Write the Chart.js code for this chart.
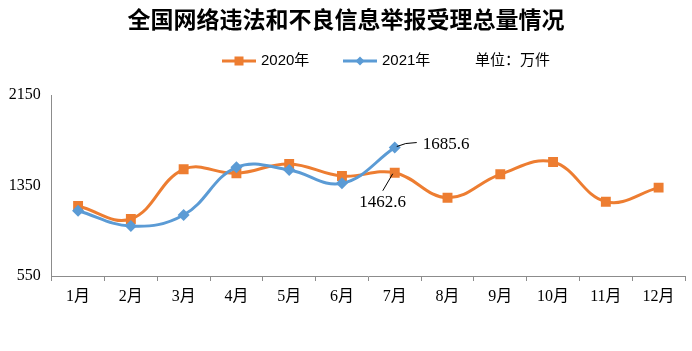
<!DOCTYPE html>
<html>
<head>
<meta charset="utf-8">
<script src="https://cdn.jsdelivr.net/npm/chart.js@4/dist/chart.umd.min.js"></script>
<style>
  html, body { margin: 0; padding: 0; background: #fff; }
  #wrap { width: 692px; height: 351px; }
</style>
</head>
<body>
<div id="wrap"><canvas id="reportChart" width="692" height="351"></canvas></div>
<script>
const months = ["1月", "2月", "3月", "4月", "5月", "6月", "7月", "8月", "9月", "10月", "11月", "12月"];
const values2020 = [1169, 1054, 1493, 1458, 1540, 1434, 1462.6, 1242, 1449, 1558, 1207, 1331];
const values2021 = [1127, 992, 1089, 1511, 1487, 1369, 1685.6];
const yTicks = [550, 1350, 2150];

const titleText = "全国网络违法和不良信息举报受理总量情况";
const unitText = "单位：万件";

const orange = "#ED7D31";
const blue = "#5B9BD5";
const axisGray = "#8c8c8c";
const serif = '"Liberation Serif", "Noto Sans CJK SC", serif';
const sans = '"Liberation Sans", "Noto Sans CJK SC", sans-serif';

// title, legend, unit and the two value labels
const decorPlugin = {
    id: "decor",
    afterDraw(chart) {
        const ctx = chart.ctx;
        ctx.save();

        ctx.fillStyle = "#000";
        ctx.textAlign = "center";
        ctx.textBaseline = "middle";
        ctx.font = 'bold 23px "Noto Sans CJK SC", sans-serif';
        ctx.fillText(titleText, 346, 19);

        // legend
        const items = [
            { x: 222, color: orange, style: "rect", text: "2020年" },
            { x: 343, color: blue, style: "diamond", text: "2021年" }
        ];
        ctx.font = "15px " + sans;
        ctx.textAlign = "left";
        items.forEach(it => {
            const y = 61;
            ctx.strokeStyle = it.color;
            ctx.lineWidth = 3;
            ctx.beginPath();
            ctx.moveTo(it.x, y);
            ctx.lineTo(it.x + 34, y);
            ctx.stroke();
            ctx.fillStyle = it.color;
            const cx = it.x + 17;
            if (it.style === "rect") {
                ctx.fillRect(cx - 4.5, y - 4.5, 9, 9);
            } else {
                ctx.beginPath();
                ctx.moveTo(cx, y - 4.5);
                ctx.lineTo(cx + 4.5, y);
                ctx.lineTo(cx, y + 4.5);
                ctx.lineTo(cx - 4.5, y);
                ctx.closePath();
                ctx.fill();
            }
            ctx.fillStyle = "#000";
            ctx.fillText(it.text, it.x + 39, y);
        });
        ctx.fillText(unitText, 475, 61);

        // value labels for July
        const p21 = chart.getDatasetMeta(1).data[6];
        const p20 = chart.getDatasetMeta(0).data[6];
        ctx.strokeStyle = "#000";
        ctx.lineWidth = 1;
        ctx.font = "17px " + serif;
        ctx.fillStyle = "#000";
        if (p21) {
            ctx.beginPath();
            ctx.moveTo(p21.x + 2, p21.y - 1);
            ctx.quadraticCurveTo(p21.x + 10, p21.y - 5, p21.x + 22, p21.y - 5);
            ctx.stroke();
            ctx.textAlign = "left";
            ctx.fillText(values2021[6].toFixed(1), p21.x + 28, p21.y - 3);
        }
        if (p20) {
            ctx.beginPath();
            ctx.moveTo(p20.x - 2, p20.y + 1);
            ctx.lineTo(p20.x - 12, p20.y + 18);
            ctx.stroke();
            ctx.textAlign = "center";
            ctx.fillText(values2020[6].toFixed(1), p20.x - 12, p20.y + 30);
        }
        ctx.restore();
    }
};

new Chart(document.getElementById("reportChart").getContext("2d"), {
    type: "line",
    data: {
        labels: months,
        datasets: [
            {
                label: "2020年",
                data: values2020,
                borderColor: orange,
                backgroundColor: orange,
                borderWidth: 3,
                pointStyle: "rect",
                pointRadius: 7,
                pointHoverRadius: 7,
                pointBorderWidth: 0,
                tension: 0.4,
                order: 2
            },
            {
                label: "2021年",
                data: values2021,
                borderColor: blue,
                backgroundColor: blue,
                borderWidth: 3,
                pointStyle: "rectRot",
                pointRadius: 6,
                pointHoverRadius: 6,
                pointBorderWidth: 0,
                tension: 0.4,
                order: 1
            }
        ]
    },
    options: {
        responsive: false,
        animation: false,
        layout: { padding: { top: 95, right: 7, left: 0, bottom: 0 } },
        plugins: {
            legend: { display: false },
            title: { display: false },
            tooltip: { enabled: false }
        },
        scales: {
            x: {
                offset: true,
                grid: {
                    offset: true,
                    drawOnChartArea: false,
                    drawTicks: true,
                    tickLength: 5,
                    color: axisGray
                },
                border: { color: axisGray, width: 1 },
                ticks: {
                    color: "#000",
                    font: { family: serif, size: 16 },
                    padding: 6,
                    maxRotation: 0
                },
                afterFit(scale) { scale.height = 75; }
            },
            y: {
                min: 550,
                max: 2150,
                afterBuildTicks(scale) {
                    scale.ticks = yTicks.map(v => ({ value: v }));
                },
                grid: { display: false, drawTicks: false },
                border: { color: axisGray, width: 1 },
                ticks: {
                    color: "#000",
                    font: { family: serif, size: 16 },
                    padding: 11,
                    callback: v => String(v)
                },
                afterFit(scale) { scale.width = 51.7; }
            }
        }
    },
    plugins: [decorPlugin]
});
</script>
</body>
</html>
